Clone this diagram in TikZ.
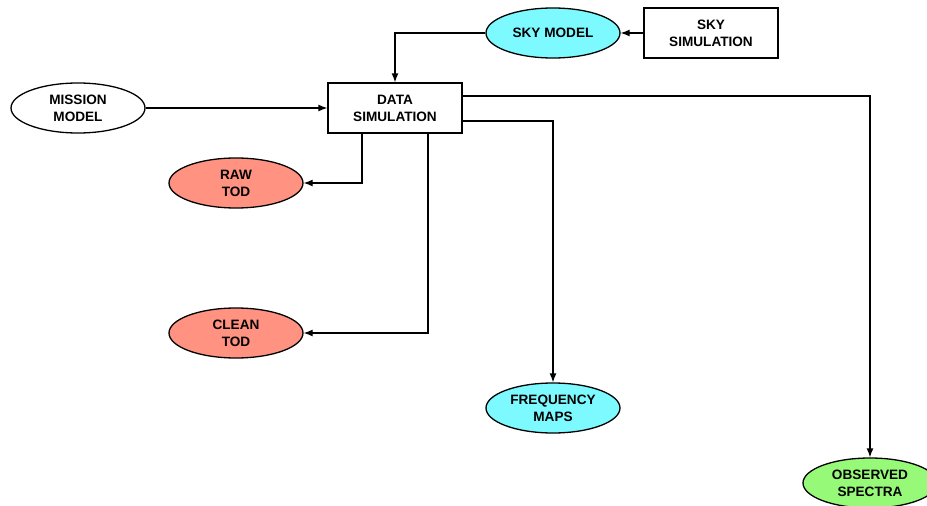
\documentclass[tikz,border=0pt]{standalone}
\usepackage{fontspec}
\setmainfont{Liberation Sans}
\usetikzlibrary{shapes.geometric,arrows.meta}

\definecolor{skycyan}{RGB}{125,250,255}
\definecolor{todred}{RGB}{255,146,128}
\definecolor{specgreen}{RGB}{150,250,120}

\begin{document}
\begin{tikzpicture}[
  x=1pt,y=-1pt,
  line width=1.3pt,
  el/.style={ellipse,draw,fill=white,minimum width=134pt,
    minimum height=50pt,inner sep=0pt,align=center,
    font=\bfseries\fontsize{13.6}{17}\selectfont},
  bx/.style={rectangle,draw,fill=white,minimum width=134pt,
    minimum height=50pt,inner sep=0pt,align=center,
    font=\bfseries\fontsize{13.6}{17}\selectfont},
  ar/.style={-{Latex[length=9pt,width=7pt]}}
]
\useasboundingbox (0,0) rectangle (927,506);
\clip (0,0) rectangle (927,506);

\node[el]                 (mm)  at (78,108)  {MISSION\\MODEL};
\node[bx]                 (ds)  at (395,108) {DATA\\SIMULATION};
\node[el,fill=skycyan]    (sm)  at (553,33)  {SKY MODEL};
\node[bx]                 (ss)  at (711,33)  {SKY\\SIMULATION};
\node[el,fill=todred]     (raw) at (236,183) {RAW\\TOD};
\node[el,fill=todred]     (cln) at (236,333) {CLEAN\\TOD};
\node[el,fill=skycyan]    (fm)  at (553,408) {FREQUENCY\\MAPS};
\node[el,fill=specgreen]  (os)  at (870,483) {OBSERVED\\SPECTRA};

\draw[ar] (mm)--(ds);
\draw[ar] (ss)--(sm);
\draw[ar] (sm.west)-|(ds.north);
\draw[ar] ([xshift=-33pt]ds.south)|-(raw.east);
\draw[ar] ([xshift=33pt]ds.south)|-(cln.east);
\draw[ar] ([yshift=-13pt]ds.east)-|(fm.north);
\draw[ar] ([yshift=12pt]ds.east)-|(os.north);
\end{tikzpicture}
\end{document}
